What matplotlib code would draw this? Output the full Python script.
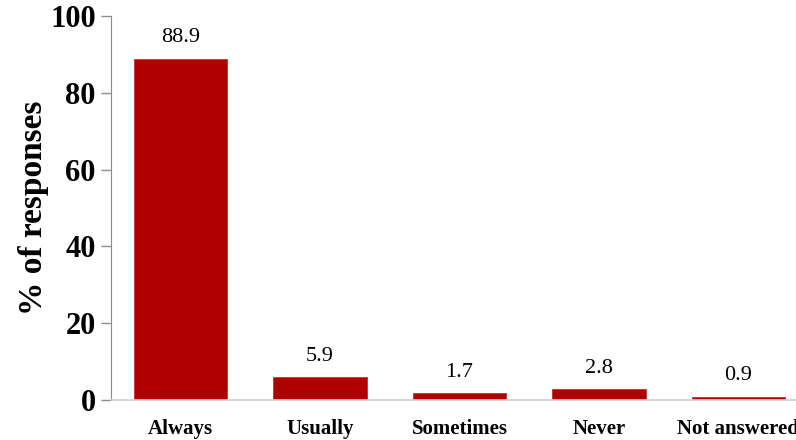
import matplotlib
matplotlib.use('Agg')
import matplotlib.pyplot as plt

categories = ['Always', 'Usually', 'Sometimes', 'Never', 'Not answered']
values = [88.9, 5.9, 1.7, 2.8, 0.9]
y_ticks = [0, 20, 40, 60, 80, 100]

plt.rcParams['font.family'] = ['Liberation Serif', 'DejaVu Serif']

bar_color = '#B00000'
axis_color = '#8C8C8C'

fig = plt.figure(figsize=(7.96, 4.4), dpi=100)
fig.patch.set_facecolor('white')
# x axis runs past the right edge like in the original slide, so the last label gets clipped
ax = fig.add_axes([111 / 796, 40 / 440, 697 / 796, 384 / 440])

x = range(len(categories))
ax.bar(x, values, width=0.67, color=bar_color, edgecolor='#C83030', linewidth=0.6)

for xi, v in zip(x, values):
    ax.text(xi, v + 3, f'{v:.1f}', ha='center', va='bottom', fontsize=16)

ax.set_xlim(-0.5, len(categories) - 0.5)
ax.set_ylim(0, 100)
ax.set_yticks(y_ticks)
ax.set_yticklabels([str(t) for t in y_ticks], fontsize=22, fontweight='bold')
ax.set_xticks(list(x))
ax.set_xticklabels(categories, fontsize=15, fontweight='bold')
ax.tick_params(axis='x', length=0, pad=14)
ax.tick_params(axis='y', length=7, width=1, color=axis_color, pad=4)

ax.set_ylabel('% of responses', fontsize=24, fontweight='bold', labelpad=1)

ax.spines['top'].set_visible(False)
ax.spines['right'].set_visible(False)
ax.spines['left'].set_color(axis_color)
ax.spines['bottom'].set_color('#D0D0D0')
ax.spines['bottom'].set_linewidth(1.2)

fig.savefig('out.png', dpi=100, facecolor='white')
